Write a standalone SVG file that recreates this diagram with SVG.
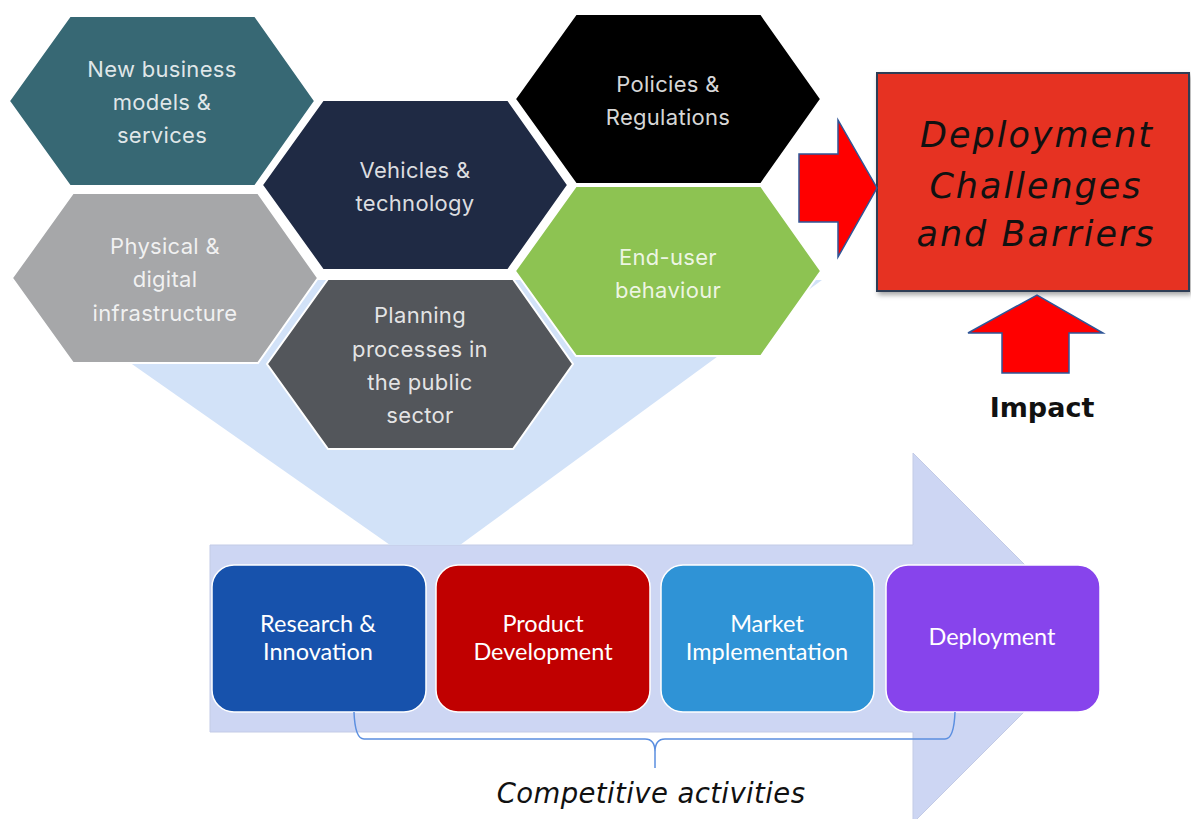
<svg xmlns="http://www.w3.org/2000/svg" width="1191" height="819" viewBox="0 0 1191 819">
  <defs>
    <path id="hex" d="M61,0 H246 L306,85 L246,170 H61 L0,85 Z"/>
    <filter id="shadow" x="-5%" y="-5%" width="115%" height="120%">
      <feDropShadow dx="2" dy="3" stdDeviation="2.5" flood-color="#000" flood-opacity="0.35"/>
    </filter>
  </defs>
  <style>
    .hex use { stroke: #ffffff; stroke-width: 2; }
    .hex text { font-family: Inter, "Noto Sans", sans-serif; font-size: 22px; letter-spacing: 0.3px; fill: #ffffff; fill-opacity: 0.85; text-anchor: middle; }
    .step rect { stroke: #ffffff; stroke-width: 1.5; }
    .step text { font-family: Lato, "Open Sans", sans-serif; font-size: 23.5px; fill: #ffffff; text-anchor: middle; }
    .big { font-family: "DejaVu Sans", sans-serif; font-style: italic; fill: #111111; text-anchor: middle; }
    .red-arrow { fill: #ff0000; stroke: #2f5597; stroke-width: 1.5; stroke-linejoin: miter; }
  </style>

  <rect width="1191" height="819" fill="#ffffff"/>

  <!-- Process arrow (background) -->
  <path id="process-arrow" d="M210,545 H913 V453 L1098,638 L913,823 V732 H210 Z" fill="#cdd6f3" stroke="#c3cbe6" stroke-width="1"/>

  <!-- Funnel from the factor hexagons down into the process -->
  <path id="funnel" d="M12,280 H822 L460,545 H390 Z" fill="#d2e2f8"/>

  <!-- Factor hexagons -->
  <g id="hex-business" class="hex">
    <use href="#hex" transform="translate(9,16)" fill="#376874"/>
    <text x="162" y="77">New business</text>
    <text x="162" y="110">models &amp;</text>
    <text x="162" y="143">services</text>
  </g>
  <g id="hex-policies" class="hex">
    <use href="#hex" transform="translate(515,14)" fill="#000000"/>
    <text x="668" y="92">Policies &amp;</text>
    <text x="668" y="125">Regulations</text>
  </g>
  <g id="hex-vehicles" class="hex">
    <use href="#hex" transform="translate(262,100)" fill="#1f2a44"/>
    <text x="415" y="178">Vehicles &amp;</text>
    <text x="415" y="211">technology</text>
  </g>
  <g id="hex-infrastructure" class="hex">
    <use href="#hex" transform="translate(12,193)" fill="#a6a7a9"/>
    <text x="165" y="254">Physical &amp;</text>
    <text x="165" y="287">digital</text>
    <text x="165" y="321">infrastructure</text>
  </g>
  <g id="hex-enduser" class="hex">
    <use href="#hex" transform="translate(515,186)" fill="#8dc352"/>
    <text x="668" y="265">End-user</text>
    <text x="668" y="298">behaviour</text>
  </g>
  <g id="hex-planning" class="hex">
    <use href="#hex" transform="translate(267,279)" fill="#53565b"/>
    <text x="420" y="323">Planning</text>
    <text x="420" y="357">processes in</text>
    <text x="420" y="390">the public</text>
    <text x="420" y="423">sector</text>
  </g>

  <!-- Process steps -->
  <g id="step-research" class="step">
    <rect x="212" y="565" width="214" height="147" rx="22" fill="#1752ac"/>
    <text x="318" y="632">Research &amp;</text>
    <text x="318" y="660">Innovation</text>
  </g>
  <g id="step-product" class="step">
    <rect x="436" y="565" width="214" height="147" rx="22" fill="#c00000"/>
    <text x="543" y="632">Product</text>
    <text x="543" y="660">Development</text>
  </g>
  <g id="step-market" class="step">
    <rect x="661" y="565" width="213" height="147" rx="22" fill="#2f93d6"/>
    <text x="767" y="632">Market</text>
    <text x="767" y="660">Implementation</text>
  </g>
  <g id="step-deployment" class="step">
    <rect x="886" y="565" width="214" height="147" rx="22" fill="#8744ec"/>
    <text x="992" y="645">Deployment</text>
  </g>

  <!-- Outcome box -->
  <g id="challenges">
    <rect x="877" y="73" width="312" height="218" fill="#e63323" stroke="#2e3d55" stroke-width="2" filter="url(#shadow)"/>
    <text class="big" x="1037" y="147" font-size="35" letter-spacing="2">Deployment</text>
    <text class="big" x="1036" y="198" font-size="35" letter-spacing="2">Challenges</text>
    <text class="big" x="1036" y="246" font-size="35" letter-spacing="2">and Barriers</text>
  </g>

  <!-- Connectors -->
  <g id="connectors">
    <path id="arrow-into-box" class="red-arrow" d="M799,154 H838 V120 L877,188 L838,257 V222 H799 Z"/>
    <path id="arrow-impact" class="red-arrow" d="M1002,373 V333 H968 L1037,295 L1103,333 H1069 V373 Z"/>
    <path id="brace" d="M354,712 Q355,739 364,739 H645 Q655,739 655,752 V768 M655,752 Q655,739 665,739 H945 Q954,739 955,712" fill="none" stroke="#5b8fe0" stroke-width="1.5"/>
  </g>

  <text id="impact-label" x="1042" y="417" font-family="'DejaVu Sans', sans-serif" font-weight="bold" font-size="27" fill="#111111" text-anchor="middle">Impact</text>
  <text id="brace-label" class="big" x="651" y="803" font-size="27.5" letter-spacing="0.4">Competitive activities</text>
</svg>
